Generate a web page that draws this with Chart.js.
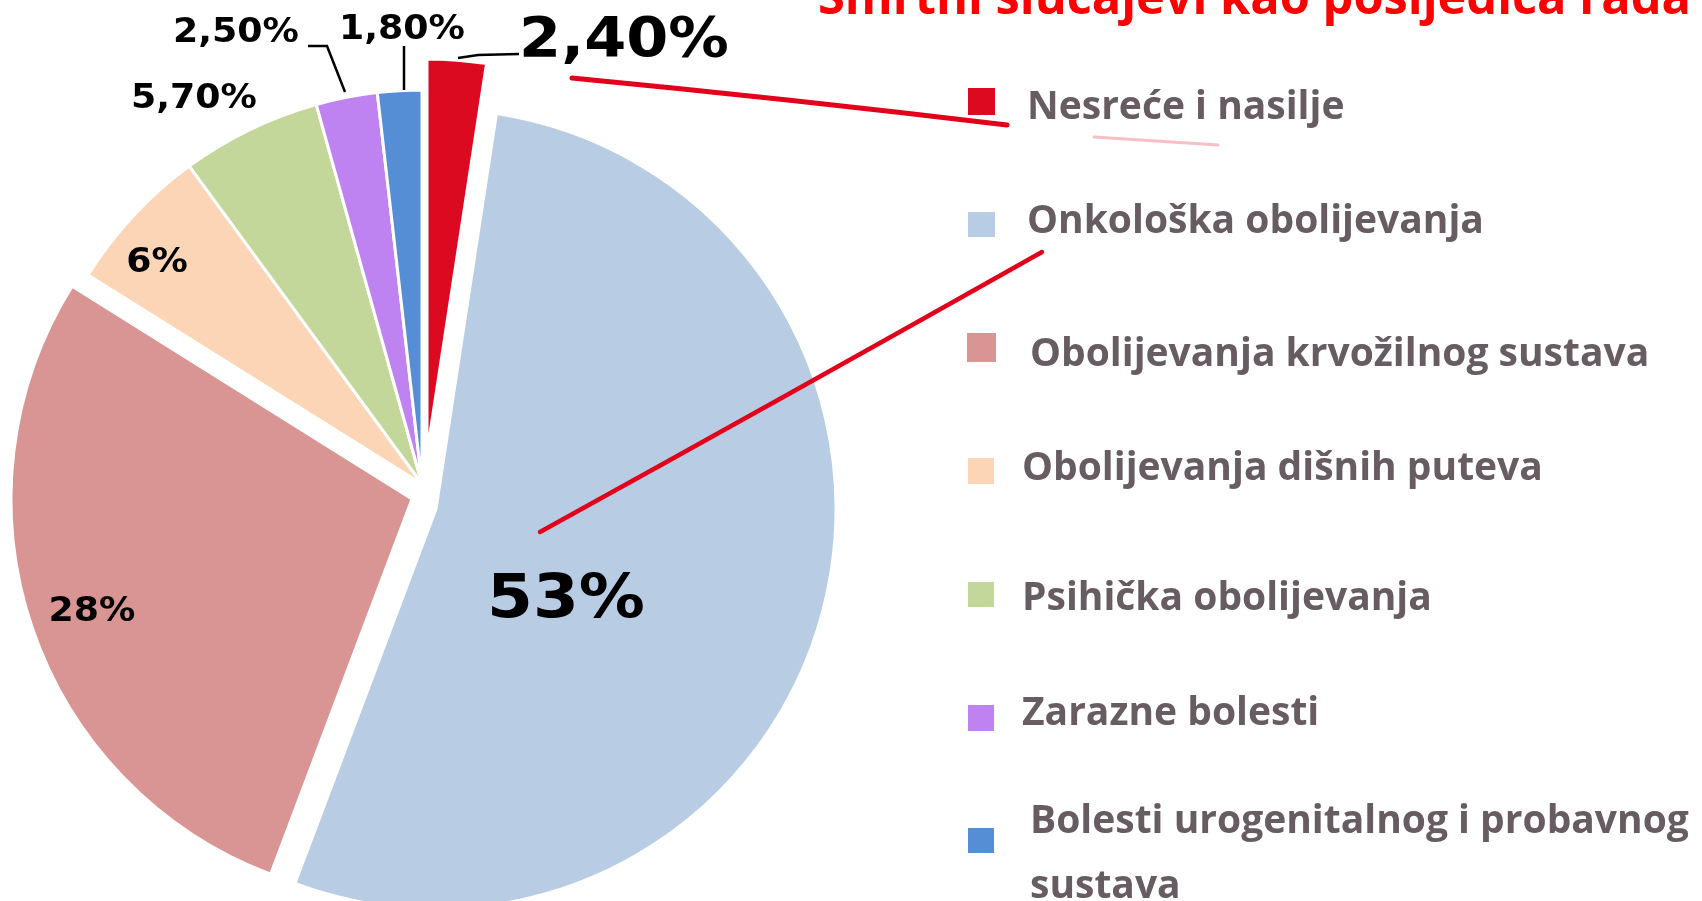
<!DOCTYPE html>
<html><head><meta charset="utf-8">
<script src="https://cdn.jsdelivr.net/npm/chart.js@4.4.1/dist/chart.umd.min.js"></script>
<style>html,body{margin:0;padding:0;background:#fff;overflow:hidden}canvas{display:block}</style>
</head><body>
<canvas id="c" width="1702" height="901"></canvas>
<script>
// ---- data ----
const categories = ["Nesreće i nasilje", "Onkološka obolijevanja", "Obolijevanja krvožilnog sustava", "Obolijevanja dišnih puteva", "Psihička obolijevanja", "Zarazne bolesti", "Bolesti urogenitalnog i probavnog sustava"];
const values = [2.4, 53, 28, 6, 5.7, 2.5, 1.8];
const valueLabels = ["2,40%", "53%", "28%", "6%", "5,70%", "2,50%", "1,80%"];
const titleText = "Smrtni slučajevi kao posljedica rada";

// ---- styles / layout ----
const colors = ["#dc0a20", "#b8cce4", "#d99594", "#fbd5b5", "#c4d79b", "#bf82f1", "#558ed5"];
// explode style per slice: shift x, shift y, extra radius (pixels)
const explode = [[5, -31, 0], [14, 25, 6], [-10, 15, 7], [0, 0, 0], [0, 0, 0], [0, 0, 0], [0, 0, 0]];
const labelLayout = [ // x (center), baseline y, font size
  [624, 56, 55], [566, 617, 60], [92, 621, 33], [157, 272, 33], [194, 108, 33], [236, 42, 33], [402, 39, 33]
];
const leaderLines = [
  [[458, 58], [478, 55], [519, 54]],
  [[308, 46], [327, 46], [345, 92]],
  [[404, 46], [404, 90]]
];
const legendBoxes = [[968, 88, 27, 27], [968, 212, 27, 25], [967, 333, 29, 29], [968, 458, 26, 26], [968, 582, 26, 25], [968, 705, 26, 26], [968, 828, 26, 25]];
const legendText = [[1027, 119], [1027, 233], [1030, 366], [1022, 480], [1022, 610], [1022, 725], [1030, 833]];

function drawStretched(ctx, text, x, y, font, color, sx, align) {
  ctx.save();
  ctx.font = font;
  ctx.fillStyle = color;
  ctx.textBaseline = 'alphabetic';
  ctx.textAlign = 'left';
  const w = ctx.measureText(text).width * sx;
  const left = align === 'center' ? x - w / 2 : x;
  ctx.translate(left, y);
  ctx.scale(sx, 1);
  ctx.fillText(text, 0, 0);
  ctx.restore();
}

const explodePlugin = {
  id: 'explode',
  afterDatasetUpdate(chart, args) {
    const meta = chart.getDatasetMeta(args.index);
    meta.data.forEach((arc, i) => {
      const e = explode[i] || [0, 0, 0];
      arc.x += e[0];
      arc.y += e[1];
      arc.outerRadius += e[2];
    });
  }
};

const overlay = {
  id: 'overlay',
  afterDatasetsDraw(chart) {
    const ctx = chart.ctx;
    // red hand-drawn annotation strokes
    ctx.save();
    ctx.strokeStyle = '#e2001a';
    ctx.lineCap = 'round';
    ctx.lineWidth = 5;
    ctx.beginPath(); ctx.moveTo(572, 78); ctx.quadraticCurveTo(790, 99, 1007, 125); ctx.stroke();
    ctx.lineWidth = 4.5;
    ctx.beginPath(); ctx.moveTo(540, 532); ctx.quadraticCurveTo(790, 394, 1042, 252); ctx.stroke();
    ctx.globalAlpha = 0.25; ctx.lineWidth = 3;
    ctx.beginPath(); ctx.moveTo(1094, 137); ctx.lineTo(1218, 145); ctx.stroke();
    ctx.restore();

    // leader lines
    ctx.save();
    ctx.strokeStyle = '#000'; ctx.lineWidth = 2.5;
    leaderLines.forEach(pts => {
      ctx.beginPath();
      pts.forEach((p, i) => i ? ctx.lineTo(p[0], p[1]) : ctx.moveTo(p[0], p[1]));
      ctx.stroke();
    });
    ctx.restore();

    // value labels
    valueLabels.forEach((t, i) => {
      const [x, y, s] = labelLayout[i];
      drawStretched(ctx, t, x, y, `bold ${s}px "DejaVu Sans"`, '#000', 1.1, 'center');
    });

    // legend
    const ds = chart.data.datasets[0];
    const lf = 'bold 39px "Open Sans"';
    chart.data.labels.forEach((lab, i) => {
      const b = legendBoxes[i];
      ctx.fillStyle = ds.backgroundColor[i];
      ctx.fillRect(b[0], b[1], b[2], b[3]);
      ctx.save();
      ctx.font = lf;
      const words = lab.split(' ');
      const lines = []; let cur = '';
      words.forEach(w => {
        const test = cur ? cur + ' ' + w : w;
        if (ctx.measureText(test).width > 700 && cur) { lines.push(cur); cur = w; } else cur = test;
      });
      lines.push(cur);
      ctx.restore();
      lines.forEach((ln, k) => drawStretched(ctx, ln, legendText[i][0], legendText[i][1] + k * 65, lf, '#675c62', 1.0, 'left'));
    });

    // title (mostly cut off at top)
    ctx.save();
    ctx.font = 'bold 48px "Open Sans"';
    const tw = ctx.measureText(titleText).width;
    ctx.restore();
    drawStretched(ctx, titleText, 818, 14, 'bold 48px "Open Sans"', '#ff0000', 873 / tw, 'left');
  }
};

new Chart(document.getElementById('c'), {
  type: 'pie',
  data: {
    labels: categories,
    datasets: [{
      data: values,
      backgroundColor: colors,
      borderColor: '#ffffff',
      borderWidth: 3,
      offset: 0,
      hoverOffset: 0,
      radius: 394
    }]
  },
  options: {
    responsive: false,
    animation: false,
    events: [],
    rotation: 0,
    layout: { padding: { left: 0, right: 858, top: 67, bottom: 0 } },
    plugins: { legend: { display: false }, tooltip: { enabled: false }, title: { display: false } }
  },
  plugins: [explodePlugin, overlay]
});
</script>
</body></html>
